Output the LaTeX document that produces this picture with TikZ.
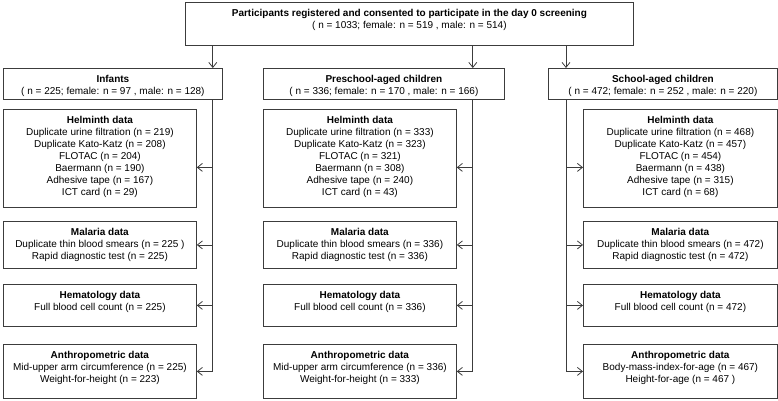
\documentclass[tikz,border=0pt]{standalone}
\usepackage{fontspec}
\setmainfont{Liberation Sans}
\usetikzlibrary{arrows.meta}
\definecolor{linegray}{HTML}{3C3C3C}

\tikzset{
  box/.style={draw=linegray, line width=0.8pt, anchor=north west, inner sep=0pt},
  boxtext/.style={anchor=north, inner sep=0pt, align=center, font=\fontsize{10}{12}\selectfont, yshift=-7pt},
  flow/.style={draw=linegray, line width=0.8pt},
  >={Straight Barb[length=5pt,width=8pt]}
}

\begin{document}
\begin{tikzpicture}[x=1pt,y=-1pt]
  \useasboundingbox (0,0) rectangle (778,400);
  % screening box
  \node[box, minimum width=448pt, minimum height=43pt] (all) at (185,2) {};
  \node[boxtext] (all-t) at (all.north) {\textbf{Participants registered and consented to participate in the day 0 screening}\\( n = 1033; female: n = 519 , male: n = 514)};

  % infants
  \node[box, minimum width=219pt, minimum height=31pt] (inf) at (3,68) {};
  \node[boxtext] (inf-t) at (inf.north) {\textbf{Infants}\\( n = 225; female: n = 97 , male: n = 128)};
  \node[box, minimum width=193pt, minimum height=98pt] (inf-helm) at (3,109) {};
  \node[boxtext] (inf-helm-t) at (inf-helm.north) {\textbf{Helminth data}\\Duplicate urine filtration (n = 219)\\Duplicate Kato-Katz (n = 208)\\FLOTAC (n = 204)\\Baermann (n = 190)\\Adhesive tape (n = 167)\\ICT card (n = 29)};
  \node[box, minimum width=193pt, minimum height=47pt] (inf-mal) at (3,221) {};
  \node[boxtext] (inf-mal-t) at (inf-mal.north) {\textbf{Malaria data}\\Duplicate thin blood smears (n = 225 )\\Rapid diagnostic test (n = 225)};
  \node[box, minimum width=193pt, minimum height=42pt] (inf-hem) at (3,284) {};
  \node[boxtext] (inf-hem-t) at (inf-hem.north) {\textbf{Hematology data}\\Full blood cell count (n = 225)};
  \node[box, minimum width=193pt, minimum height=54pt] (inf-ant) at (3,344) {};
  \node[boxtext] (inf-ant-t) at (inf-ant.north) {\textbf{Anthropometric data}\\Mid-upper arm circumference (n = 225)\\Weight-for-height (n = 223)};

  % preschool-aged children
  \node[box, minimum width=241pt, minimum height=31pt] (pre) at (263,68) {};
  \node[boxtext] (pre-t) at (pre.north) {\textbf{Preschool-aged children}\\( n = 336; female: n = 170 , male: n = 166)};
  \node[box, minimum width=193pt, minimum height=98pt] (pre-helm) at (263,109) {};
  \node[boxtext] (pre-helm-t) at (pre-helm.north) {\textbf{Helminth data}\\Duplicate urine filtration (n = 333)\\Duplicate Kato-Katz (n = 323)\\FLOTAC (n = 321)\\Baermann (n = 308)\\Adhesive tape (n = 240)\\ICT card (n = 43)};
  \node[box, minimum width=193pt, minimum height=47pt] (pre-mal) at (263,221) {};
  \node[boxtext] (pre-mal-t) at (pre-mal.north) {\textbf{Malaria data}\\Duplicate thin blood smears (n = 336)\\Rapid diagnostic test (n = 336)};
  \node[box, minimum width=193pt, minimum height=42pt] (pre-hem) at (263,284) {};
  \node[boxtext] (pre-hem-t) at (pre-hem.north) {\textbf{Hematology data}\\Full blood cell count (n = 336)};
  \node[box, minimum width=193pt, minimum height=54pt] (pre-ant) at (263,344) {};
  \node[boxtext] (pre-ant-t) at (pre-ant.north) {\textbf{Anthropometric data}\\Mid-upper arm circumference (n = 336)\\Weight-for-height (n = 333)};

  % school-aged children
  \node[box, minimum width=229pt, minimum height=31pt] (sch) at (548,68) {};
  \node[boxtext] (sch-t) at (sch.north) {\textbf{School-aged children}\\( n = 472; female: n = 252 , male: n = 220)};
  \node[box, minimum width=194pt, minimum height=98pt] (sch-helm) at (583,109) {};
  \node[boxtext] (sch-helm-t) at (sch-helm.north) {\textbf{Helminth data}\\Duplicate urine filtration (n = 468)\\Duplicate Kato-Katz (n = 457)\\FLOTAC (n = 454)\\Baermann (n = 438)\\Adhesive tape (n = 315)\\ICT card (n = 68)};
  \node[box, minimum width=194pt, minimum height=47pt] (sch-mal) at (583,221) {};
  \node[boxtext] (sch-mal-t) at (sch-mal.north) {\textbf{Malaria data}\\Duplicate thin blood smears (n = 472)\\Rapid diagnostic test (n = 472)};
  \node[box, minimum width=194pt, minimum height=42pt] (sch-hem) at (583,284) {};
  \node[boxtext] (sch-hem-t) at (sch-hem.north) {\textbf{Hematology data}\\Full blood cell count (n = 472)};
  \node[box, minimum width=194pt, minimum height=54pt] (sch-ant) at (583,344) {};
  \node[boxtext] (sch-ant-t) at (sch-ant.north) {\textbf{Anthropometric data}\\Body-mass-index-for-age (n = 467)\\Height-for-age (n = 467 )};

  % branch lines
  \coordinate (inf-v) at ([xshift=-10pt]inf.south east);
  \coordinate (pre-v) at ([xshift=-32pt]pre.south east);
  \coordinate (sch-v) at ([xshift=18pt]sch.south west);
  \coordinate (inf-h) at ([yshift=-9pt]inf-helm.east);
  \coordinate (pre-h) at ([yshift=-9pt]pre-helm.east);
  \coordinate (sch-h) at ([yshift=-9pt]sch-helm.west);

  \draw[flow,->] (all.south -| inf-v) -- (inf-v |- inf.north);
  \draw[flow,->] (all.south -| pre-v) -- (pre-v |- pre.north);
  \draw[flow,->] (all.south -| sch-v) -- (sch-v |- sch.north);

  \draw[flow] (inf-v) -- (inf-v |- inf-ant.east);
  \draw[flow,->] (inf-v |- inf-h) -- (inf-h);
  \draw[flow,->] (inf-v |- inf-mal.east) -- (inf-mal.east);
  \draw[flow,->] (inf-v |- inf-hem.east) -- (inf-hem.east);
  \draw[flow,->] (inf-v |- inf-ant.east) -- (inf-ant.east);

  \draw[flow] (pre-v) -- (pre-v |- pre-ant.east);
  \draw[flow,->] (pre-v |- pre-h) -- (pre-h);
  \draw[flow,->] (pre-v |- pre-mal.east) -- (pre-mal.east);
  \draw[flow,->] (pre-v |- pre-hem.east) -- (pre-hem.east);
  \draw[flow,->] (pre-v |- pre-ant.east) -- (pre-ant.east);

  \draw[flow] (sch-v) -- (sch-v |- sch-ant.west);
  \draw[flow,->] (sch-v |- sch-h) -- (sch-h);
  \draw[flow,->] (sch-v |- sch-mal.west) -- (sch-mal.west);
  \draw[flow,->] (sch-v |- sch-hem.west) -- (sch-hem.west);
  \draw[flow,->] (sch-v |- sch-ant.west) -- (sch-ant.west);
\end{tikzpicture}
\end{document}
